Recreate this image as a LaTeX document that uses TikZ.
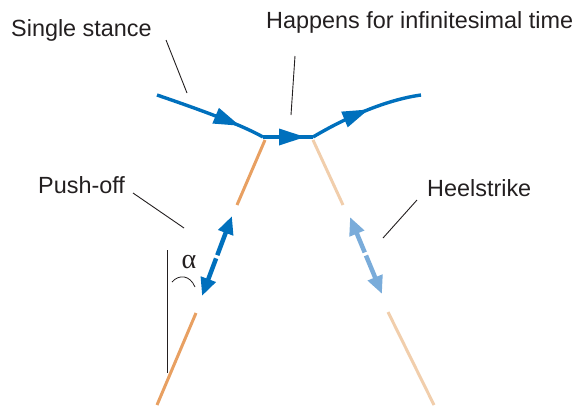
\documentclass[tikz,border=0pt]{standalone}
\usepackage{fontspec}
\setmainfont{Liberation Sans}
\newfontfamily\greekserif{Liberation Serif}
\usetikzlibrary{arrows.meta,decorations.markings,calc}
\definecolor{dblue}{RGB}{0,112,189}
\definecolor{lblue}{RGB}{122,172,218}
\definecolor{legor}{RGB}{232,160,98}
\definecolor{legpe}{RGB}{241,206,172}
\definecolor{txt}{RGB}{35,31,32}
\tikzset{
  lbl/.style={inner sep=0pt, text=txt, font=\fontsize{23.4}{27}\selectfont},
  leader/.style={draw=txt, line width=0.9pt},
  path/.style={draw=dblue, line width=3.4pt},
  midarrow/.style={postaction={decorate}, decoration={markings,
     mark=at position #1 with {\fill[dblue] (6pt,0) -- (-20pt,8.5pt) -- (-20pt,-8.5pt) -- cycle;}}},
  leg/.style={line width=3pt},
  dbl/.style={line width=4.5pt, -{Triangle[length=18pt,width=15pt]}},
}
\begin{document}
\begin{tikzpicture}[x=1pt,y=-1pt]
\useasboundingbox (0,0) rectangle (582,405);
% labels
\node[lbl, anchor=west] (ss) at (11,30) {Single stance};
\node[lbl, anchor=west] (hap) at (266,22) {Happens for infinitesimal time};
\node[lbl, anchor=west] (po) at (38,185) {Push-off};
\node[lbl, anchor=west] (hs) at (427,188) {Heelstrike};
\node[inner sep=0pt, text=txt, font=\greekserif\fontsize{28}{30}\selectfont] (al) at (189,262) {α};
% coordinates
\coordinate (p0) at (157,95);
\coordinate (p1) at (263,137);
\coordinate (p2) at (313,137);
\coordinate (p3) at (421,95);
\coordinate (ssA) at (166,40);
\coordinate (ssB) at (187,93);
\coordinate (hA) at (295,56);
\coordinate (hB) at (291,115);
\coordinate (poA) at (133,193);
\coordinate (poB) at (184,228);
\coordinate (hsA) at (417,200);
\coordinate (hsB) at (383,238);
% legs
\coordinate (l1) at (265,140);
\coordinate (l2) at (237,205);
\coordinate (l3) at (196,313);
\coordinate (l4) at (157,405);
\coordinate (r1) at (313,140);
\coordinate (r2) at (343,205);
\coordinate (r3) at (388,312);
\coordinate (r4) at (434,405);
\draw[leg, legor] (l1) -- (l2);
\draw[leg, legor] (l3) -- (l4);
\draw[leg, legpe] (r1) -- (r2);
\draw[leg, legpe] (r3) -- (r4);
% vertical reference and angle
\coordinate (v1) at (167,250);
\coordinate (v2) at (167,373);
\draw[line width=0.8pt, txt] (v1) -- (v2);
\coordinate (a1) at (172,282);
\coordinate (a2) at (195,287);
\draw[line width=0.8pt, txt] (a1) .. controls (179,274) and (190,275) .. (a2);
% blue trajectory
\draw[path, midarrow=0.72] (p0) .. controls (195,108) and (240,124) .. (p1);
\draw[path, midarrow=0.72] (p1) -- (p2);
\draw[path, midarrow=0.48] (p2) .. controls (345,118) and (385,100) .. (p3);
% double arrows
\coordinate (da1) at (232,216);
\coordinate (da2) at (202,296);
\draw[dbl, dblue] ($(da1)!0.49!(da2)$) -- (da1);
\draw[dbl, dblue] ($(da1)!0.53!(da2)$) -- (da2);
\coordinate (db1) at (350,217);
\coordinate (db2) at (382,294);
\draw[dbl, lblue] ($(db1)!0.46!(db2)$) -- (db1);
\draw[dbl, lblue] ($(db1)!0.50!(db2)$) -- (db2);
% leaders
\draw[leader] (ssA) -- (ssB);
\draw[leader] (hA) -- (hB);
\draw[leader] (poA) -- (poB);
\draw[leader] (hsA) -- (hsB);
\end{tikzpicture}
\end{document}
